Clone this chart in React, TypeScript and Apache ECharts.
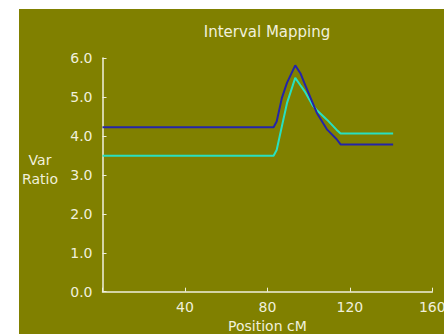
import React, { useEffect, useRef } from "react";
import * as echarts from "echarts";

const positions = [0, 83, 84.5, 87, 89.5, 93.5, 96, 98, 102, 104, 109, 113.5, 115.5, 141];
const blueValues = [4.22, 4.22, 4.37, 4.97, 5.36, 5.81, 5.61, 5.35, 4.84, 4.59, 4.16, 3.92, 3.78, 3.78];
const cyanValues = [3.49, 3.49, 3.64, 4.24, 4.84, 5.49, 5.3, 5.15, 4.78, 4.66, 4.41, 4.16, 4.06, 4.06];
const xTicks = [0, 40, 80, 120, 160];
const yTicks = [0, 1, 2, 3, 4, 5, 6];

const TXT = "#f0f0dc";
const FONT = "DejaVu Sans";

export default function App() {
  const ref = useRef<HTMLDivElement>(null);
  useEffect(() => {
    if (!ref.current) return;
    const chart = echarts.init(ref.current, null, { renderer: "svg" });
    chart.setOption({
      animation: false,
      backgroundColor: "#ffffff",
      graphic: [
        { type: "rect", z: -10, shape: { x: 19, y: 9, width: 430, height: 330 }, style: { fill: "#808000" }, silent: true },
        { type: "text", x: 267, y: 32, style: { text: "Interval Mapping", fill: TXT, font: `15px ${FONT}`, textAlign: "center", textVerticalAlign: "middle" } },
        { type: "text", x: 40, y: 169, style: { text: "Var\nRatio", fill: TXT, font: `14px ${FONT}`, lineHeight: 19, textAlign: "center", textVerticalAlign: "middle" } },
      ],
      grid: { left: 102.5, right: 11.7, top: 58, bottom: 42.3, containLabel: false, outerBoundsMode: "none" },
      xAxis: {
        type: "value",
        min: xTicks[0],
        max: xTicks[xTicks.length - 1],
        interval: 40,
        name: "Position cM",
        nameLocation: "middle",
        nameGap: 26,
        nameTextStyle: { color: TXT, fontFamily: FONT, fontSize: 14 },
        splitLine: { show: false },
        axisLine: { lineStyle: { color: TXT, width: 1.5 } },
        axisTick: { inside: true, length: 4, lineStyle: { color: TXT } },
        axisLabel: {
          color: TXT, fontFamily: FONT, fontSize: 14, margin: 8,
          formatter: (v: number) => (v === 0 ? "" : String(v)),
        },
      },
      yAxis: {
        type: "value",
        min: yTicks[0],
        max: yTicks[yTicks.length - 1],
        interval: 1,
        splitLine: { show: false },
        axisLine: { show: true, lineStyle: { color: TXT, width: 1.5 } },
        axisTick: { show: true, inside: true, length: 4, lineStyle: { color: TXT } },
        axisLabel: { color: TXT, fontFamily: FONT, fontSize: 14, margin: 10, formatter: (v: number) => v.toFixed(1) },
      },
      series: [
        {
          type: "line",
          data: positions.map((p, i) => [p, cyanValues[i]]),
          showSymbol: false,
          lineStyle: { color: "#28e0c0", width: 2 },
          itemStyle: { color: "#28e0c0" },
        },
        {
          type: "line",
          data: positions.map((p, i) => [p, blueValues[i]]),
          showSymbol: false,
          lineStyle: { color: "#2424a8", width: 2 },
          itemStyle: { color: "#2424a8" },
        },
      ],
    });
    return () => chart.dispose();
  }, []);
  return <div ref={ref} style={{ position: "fixed", left: 0, top: 0, width: 444, height: 334 }} />;
}
